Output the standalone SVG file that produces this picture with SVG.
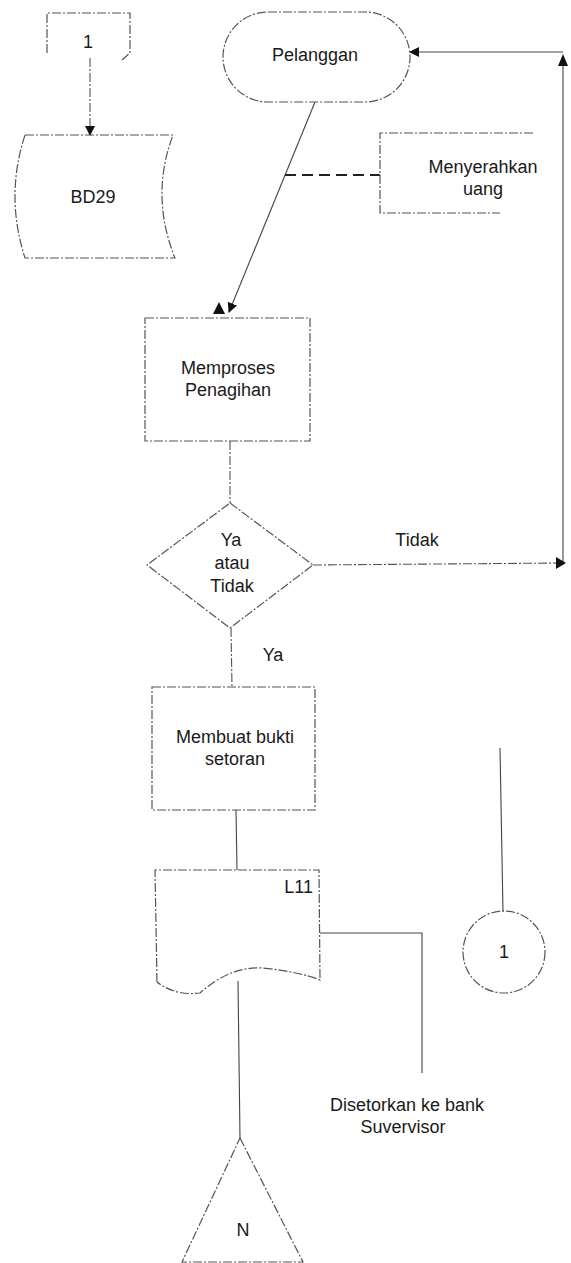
<svg xmlns="http://www.w3.org/2000/svg" width="571" height="1263" viewBox="0 0 571 1263">
<style>
text{font-family:"Liberation Sans",Arial,sans-serif;font-size:18px;fill:#1a1a1a;text-anchor:middle}
.n{fill:none;stroke:#555;stroke-width:1.2;stroke-dasharray:9 2 2 2}
.c{fill:none;stroke:#444;stroke-width:1.1}
.cd{fill:none;stroke:#555;stroke-width:1.1;stroke-dasharray:9 2 2 2}
.dash{fill:none;stroke:#222;stroke-width:2.2;stroke-dasharray:11 6}
</style>
<defs>
<marker id="ah" markerWidth="10" markerHeight="10" refX="9" refY="5" orient="auto" markerUnits="userSpaceOnUse">
<path d="M0,0 L10,5 L0,10 Z" fill="#111"/>
</marker>
</defs>
<rect width="571" height="1263" fill="#fff"/>
<g id="connectors">
<line class="cd" x1="90" y1="58" x2="90" y2="135" marker-end="url(#ah)"/>
<line class="c" x1="315" y1="102" x2="229" y2="312" marker-end="url(#ah)"/>
<line class="dash" x1="285" y1="175" x2="380" y2="175"/>
<line class="cd" x1="230" y1="441" x2="230" y2="503"/>
<polyline class="cd" points="313,565 563,563"/>
<line class="c" x1="563" y1="563" x2="563" y2="57"/>
<line class="c" x1="563" y1="52" x2="410" y2="52" marker-end="url(#ah)"/>
<path d="M558,66 L563,54 L568,66 Z" fill="#111"/>
<path d="M556,557 L566,563 L556,569 Z" fill="#111"/>
<path d="M213,314 L219,302 L225,314 Z" fill="#111"/>
<line class="cd" x1="231" y1="628" x2="232" y2="687"/>
<line class="c" x1="236" y1="810" x2="237" y2="870"/>
<polyline class="c" points="320,933 422,933 422,1073"/>
<line class="c" x1="238" y1="981" x2="240" y2="1138"/>
<line class="c" x1="500" y1="748" x2="503" y2="912"/>
</g>
<g id="node-1-top">
<polyline class="n" points="47,53 47,13 130,13 130,53 122,60"/>
<text x="88" y="48">1</text>
</g>
<g id="node-bd29">
<path class="n" d="M25,135 L173,135 Q150,196 175,258 L25,258 Q5,196 25,135"/>
<text x="93" y="203">BD29</text>
</g>
<g id="node-pelanggan">
<rect class="n" x="223" y="12" width="187" height="90" rx="45" ry="45"/>
<text x="315" y="61">Pelanggan</text>
</g>
<g id="node-menyerahkan">
<polyline class="n" points="533,133 380,133 380,213 500,213"/>
<text x="483" y="173">Menyerahkan</text>
<text x="483" y="195">uang</text>
</g>
<g id="node-memproses">
<rect class="n" x="145" y="318" width="165" height="123"/>
<text x="228" y="374">Memproses</text>
<text x="228" y="396">Penagihan</text>
</g>
<g id="node-decision">
<polygon class="n" points="230,503 313,565 230,628 147,565" stroke-dasharray="4 6"/>
<text x="231" y="546">Ya</text>
<text x="232" y="569">atau</text>
<text x="232" y="592">Tidak</text>
</g>
<text x="417" y="546">Tidak</text>
<text x="273" y="661">Ya</text>
<g id="node-membuat">
<rect class="n" x="152" y="687" width="163" height="123"/>
<text x="235" y="743">Membuat bukti</text>
<text x="235" y="765">setoran</text>
</g>
<g id="node-l11">
<path class="n" d="M157,982 L155,870 L319,870 L320,980 Q300,972 263,968 Q230,966 200,993 Q175,996 157,982"/>
<text x="313" y="893" style="text-anchor:end">L11</text>
</g>
<text x="407" y="1111">Disetorkan ke bank</text>
<text x="403" y="1133">Suvervisor</text>
<g id="node-circle-1">
<circle class="n" cx="504" cy="952" r="41"/>
<text x="504" y="958">1</text>
</g>
<g id="node-n">
<polygon class="n" points="240,1138 303,1262 182,1262"/>
<text x="243" y="1236">N</text>
</g>
</svg>
